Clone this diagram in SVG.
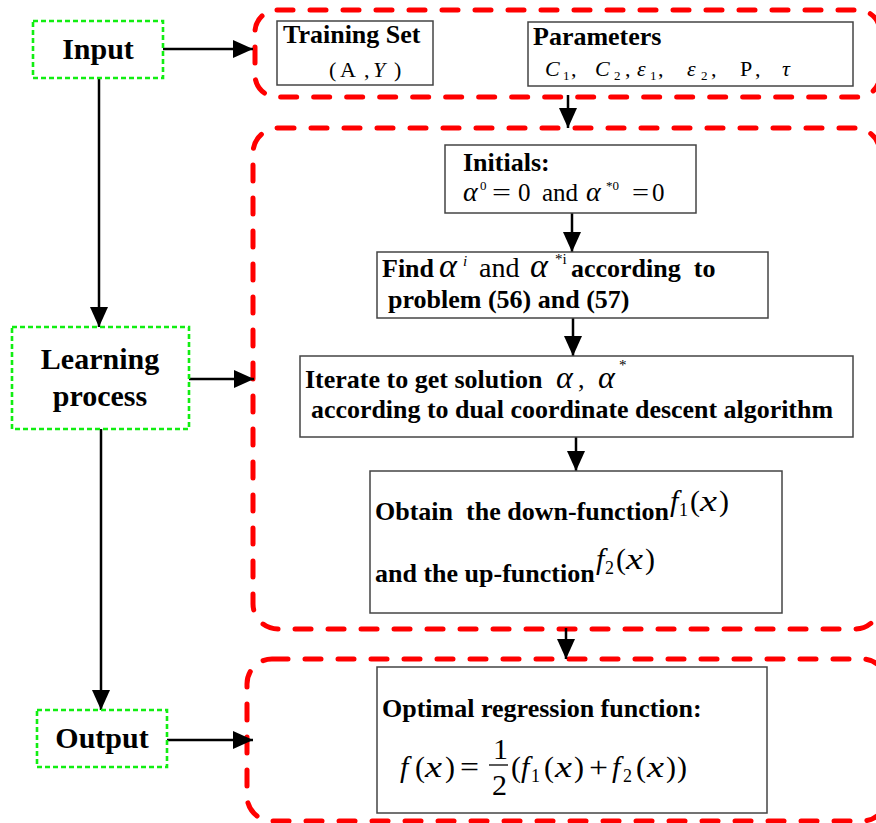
<svg xmlns="http://www.w3.org/2000/svg" width="876" height="823" viewBox="0 0 876 823">
  <defs>
    <marker id="arrow" markerUnits="userSpaceOnUse" markerWidth="20" markerHeight="18" refX="20" refY="9" orient="auto">
      <path d="M0,0 L20,9 L0,18 Z" fill="#000"/>
    </marker>
    <style>
      .stage { fill: #fff; stroke: #11ee11; stroke-width: 2.6; stroke-dasharray: 5 3; }
      .group { fill: none; stroke: #ff0000; stroke-width: 5; stroke-dasharray: 16 17; stroke-linecap: round; }
      .box { fill: #fff; stroke: #444; stroke-width: 1.5; }
      .conn { fill: none; stroke: #000; stroke-width: 2.5; marker-end: url(#arrow); }
      text { font-family: "Liberation Serif", "Times New Roman", serif; fill: #000; }
      .stageLabel { font-size: 30px; font-weight: bold; text-anchor: middle; }
      .b { font-size: 26px; font-weight: bold; }
      .it { font-style: italic; }
      .f30 { font-size: 30px; }
      .f25 { font-size: 25px; }
    </style>
  </defs>

  <!-- red dashed groups -->
  <g id="group-data">
    <rect class="group" x="255" y="10" width="625" height="87" rx="22"/>
  </g>
  <g id="group-learning">
    <rect class="group" x="253" y="128" width="627" height="501" rx="25"/>
  </g>
  <g id="group-result">
    <rect class="group" x="247" y="659" width="640" height="162" rx="25"/>
  </g>

  <!-- connectors -->
  <g id="connectors">
    <line class="conn" x1="163" y1="49" x2="253" y2="49"/>
    <line class="conn" x1="99" y1="78" x2="99" y2="327"/>
    <line class="conn" x1="189" y1="379" x2="254" y2="379"/>
    <line class="conn" x1="101" y1="429" x2="101" y2="710"/>
    <line class="conn" x1="167" y1="740" x2="253" y2="740"/>
    <line class="conn" x1="568" y1="95" x2="568" y2="128"/>
    <line class="conn" x1="572" y1="213" x2="572" y2="252"/>
    <line class="conn" x1="573" y1="318" x2="573" y2="356"/>
    <line class="conn" x1="576" y1="437" x2="576" y2="471"/>
    <line class="conn" x1="566" y1="628" x2="566" y2="659"/>
  </g>

  <!-- stages -->
  <g id="input">
    <rect class="stage" x="33" y="21" width="130" height="57"/>
    <text class="stageLabel" x="98" y="59">Input</text>
  </g>
  <g id="learning">
    <rect class="stage" x="12" y="327" width="177" height="102"/>
    <text class="stageLabel" x="100" y="369">Learning</text>
    <text class="stageLabel" x="100" y="406">process</text>
  </g>
  <g id="output">
    <rect class="stage" x="37" y="710" width="130" height="57"/>
    <text class="stageLabel" x="102" y="748">Output</text>
  </g>

  <!-- data boxes -->
  <g id="training-set">
    <rect class="box" x="277" y="21" width="156" height="64"/>
    <text class="b" x="283" y="43">Training Set</text>
    <text y="77" font-size="22"><tspan x="329">(</tspan><tspan x="340">A</tspan><tspan x="364">,</tspan><tspan x="373" class="it">Y</tspan><tspan x="394">)</tspan></text>
  </g>
  <g id="parameters">
    <rect class="box" x="528" y="22" width="325" height="64"/>
    <text class="b" x="533" y="45">Parameters</text>
    <text y="76" font-size="22"><tspan x="545" class="it">C</tspan><tspan x="563" y="80" font-size="13">1</tspan><tspan x="571" y="76">,</tspan><tspan x="595" class="it">C</tspan><tspan x="614" y="80" font-size="13">2</tspan><tspan x="625" y="76">,</tspan><tspan x="637" class="it">ε</tspan><tspan x="650" y="80" font-size="13">1</tspan><tspan x="658" y="76">,</tspan><tspan x="687" class="it">ε</tspan><tspan x="701" y="80" font-size="13">2</tspan><tspan x="711" y="76">,</tspan><tspan x="740">P</tspan><tspan x="755">,</tspan><tspan x="782" class="it">τ</tspan></text>
  </g>

  <!-- learning steps -->
  <g id="initials">
    <rect class="box" x="445" y="145" width="251" height="68"/>
    <text class="b" x="463" y="171">Initials:</text>
    <text y="201" class="f25"><tspan x="463" class="it" font-size="28">α</tspan><tspan x="480" y="190" font-size="13">0</tspan><tspan x="518" y="201">0</tspan><tspan x="542">and</tspan><tspan x="586" class="it" font-size="28">α</tspan><tspan x="606" y="190" font-size="13">*0</tspan><tspan x="652" y="201">0</tspan></text>
    <text x="492" y="201" class="f25" textLength="19" lengthAdjust="spacingAndGlyphs">=</text>
    <text x="632" y="201" class="f25" textLength="17" lengthAdjust="spacingAndGlyphs">=</text>
  </g>
  <g id="find">
    <rect class="box" x="377" y="252" width="391" height="66"/>
    <text y="277"><tspan class="b" x="382">Find</tspan><tspan x="439" class="it" font-size="34">α</tspan><tspan x="463" y="266" class="it" font-size="15">i</tspan><tspan x="479" y="277" font-size="28">and</tspan><tspan x="530" class="it" font-size="34">α</tspan><tspan x="555" y="264" font-size="15">*i</tspan><tspan x="571" y="277" class="b" xml:space="preserve">according  to</tspan></text>
    <text class="b" x="388" y="308">problem (56) and (57)</text>
  </g>
  <g id="iterate">
    <rect class="box" x="300" y="356" width="553" height="81"/>
    <text y="388"><tspan class="b" x="305">Iterate to get solution</tspan><tspan x="556" class="it" font-size="32">α</tspan><tspan x="578" font-size="26">,</tspan><tspan x="598" class="it" font-size="32">α</tspan><tspan x="619" y="370" font-size="15">*</tspan></text>
    <text class="b" x="311" y="418" textLength="522" lengthAdjust="spacingAndGlyphs">according to dual coordinate descent algorithm</text>
  </g>
  <g id="obtain">
    <rect class="box" x="370" y="471" width="412" height="142"/>
    <text class="b" x="375" y="520" xml:space="preserve">Obtain  the down-function</text>
    <text y="511" class="f30"><tspan x="670" class="it">f</tspan><tspan x="679" y="516" font-size="18">1</tspan><tspan x="690" y="511">(</tspan><tspan x="719">)</tspan></text>
    <text x="700" y="511" class="f30 it" textLength="17" lengthAdjust="spacingAndGlyphs">x</text>
    <text class="b" x="375" y="582">and the up-function</text>
    <text y="569" class="f30"><tspan x="596" class="it">f</tspan><tspan x="605" y="574" font-size="18">2</tspan><tspan x="616" y="569">(</tspan><tspan x="645">)</tspan></text>
    <text x="626" y="569" class="f30 it" textLength="17" lengthAdjust="spacingAndGlyphs">x</text>
  </g>

  <!-- result -->
  <g id="optimal">
    <rect class="box" x="377" y="667" width="390" height="146"/>
    <text class="b" x="382" y="717">Optimal regression function:</text>
    <text y="777" class="f30"><tspan x="400" class="it">f</tspan><tspan x="415">(</tspan><tspan x="445">)</tspan><tspan x="511">(</tspan><tspan x="521" class="it">f</tspan><tspan x="531" y="782" font-size="18">1</tspan><tspan x="544" y="777">(</tspan><tspan x="574">)</tspan><tspan x="612" class="it">f</tspan><tspan x="623" y="782" font-size="18">2</tspan><tspan x="636" y="777">(</tspan><tspan x="666">)</tspan><tspan x="677">)</tspan></text>
    <text x="425" y="777" class="f30 it" textLength="17" lengthAdjust="spacingAndGlyphs">x</text>
    <text x="555" y="777" class="f30 it" textLength="17" lengthAdjust="spacingAndGlyphs">x</text>
    <text x="647" y="777" class="f30 it" textLength="17" lengthAdjust="spacingAndGlyphs">x</text>
    <text x="460" y="777" class="f30" textLength="19" lengthAdjust="spacingAndGlyphs">=</text>
    <text x="589" y="777" class="f30" textLength="19" lengthAdjust="spacingAndGlyphs">+</text>
    <text x="493" y="759" class="f30">1</text>
    <line x1="489" y1="765" x2="508" y2="765" stroke="#000" stroke-width="1.3"/>
    <text x="492" y="795" class="f30">2</text>
  </g>
</svg>
